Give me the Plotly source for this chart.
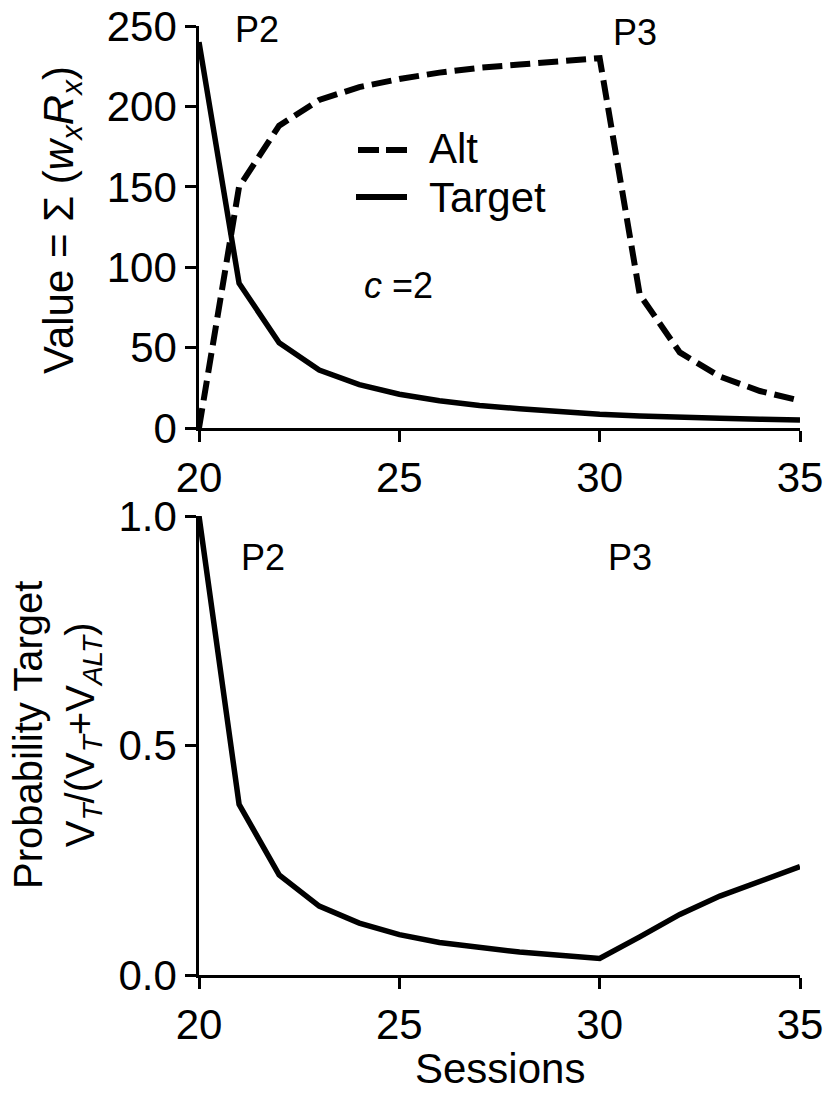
import plotly.graph_objects as go

# ---------------- data ----------------
sessions = [20, 21, 22, 23, 24, 25, 26, 27, 28, 29, 30, 31, 32, 33, 34, 35]
alt_value = [0, 150, 188, 204, 212, 217, 221, 224, 226, 228, 230, 83, 47, 32, 23, 17]
target_value = [240, 90, 53, 36, 27, 21, 17, 14, 12, 10, 8.5, 7.5, 6.5, 6, 5.5, 5]
prob_target = [1.0, 0.372, 0.218, 0.150, 0.113, 0.088, 0.071, 0.059, 0.050, 0.043, 0.036,
               0.083, 0.132, 0.172, 0.205, 0.236]

x_ticks = [20, 25, 30, 35]
top_y_ticks = [0, 50, 100, 150, 200, 250]
bottom_y_ticks = [0.0, 0.5, 1.0]

W, H = 830, 1094
FONT = "Liberation Sans, Arial, sans-serif"


def px(x):
    return x / W


def py(y):
    return 1 - y / H


fig = go.Figure()

fig.add_trace(go.Scatter(x=sessions, y=alt_value, mode="lines", name="Alt",
                         line=dict(color="black", width=6, dash="20px,8px"),
                         xaxis="x", yaxis="y", cliponaxis=False, showlegend=False))
fig.add_trace(go.Scatter(x=sessions, y=target_value, mode="lines", name="Target",
                         line=dict(color="black", width=5.5),
                         xaxis="x", yaxis="y", cliponaxis=False, showlegend=False))
fig.add_trace(go.Scatter(x=sessions, y=prob_target, mode="lines", name="Probability Target",
                         line=dict(color="black", width=5.5),
                         xaxis="x2", yaxis="y2", cliponaxis=False, showlegend=False))

axis_common = dict(showline=True, linecolor="black", linewidth=2.5, ticks="outside",
                   ticklen=11, tickwidth=2.5, tickcolor="black", showgrid=False,
                   zeroline=False, automargin=False,
                   tickfont=dict(family=FONT, size=42, color="black"))

xdom = [px(199), px(800)]
fig.update_layout(
    template="none",
    width=W, height=H,
    margin=dict(l=0, r=0, t=0, b=0, pad=0),
    paper_bgcolor="white", plot_bgcolor="white",
    font=dict(family=FONT, color="black", size=42),
    showlegend=False,
    xaxis=dict(domain=xdom, range=[20, 35], tickvals=x_ticks, anchor="y", **axis_common),
    yaxis=dict(domain=[py(428), py(26)], range=[0, 250], tickvals=top_y_ticks,
               anchor="x", **axis_common),
    xaxis2=dict(domain=xdom, range=[20, 35], tickvals=x_ticks, anchor="y2", **axis_common),
    yaxis2=dict(domain=[py(975), py(516)], range=[0, 1], tickvals=bottom_y_ticks,
                tickformat=".1f", anchor="x2", **axis_common),
)

annotations = [
    dict(x=px(257), y=py(30), text="P2", font=dict(size=36)),
    dict(x=px(635), y=py(33), text="P3", font=dict(size=36)),
    dict(x=px(263), y=py(557), text="P2", font=dict(size=36)),
    dict(x=px(630), y=py(557), text="P3", font=dict(size=36)),
    dict(x=px(398), y=py(285), text="<i>c</i> =2", font=dict(size=36)),
    dict(x=px(428), y=py(173), text="Alt", xanchor="left", yanchor="bottom",
         font=dict(size=42)),
    dict(x=px(428), y=py(173), text="Target", xanchor="left", yanchor="top",
         font=dict(size=42)),
    dict(x=px(61), y=py(220), textangle=-90,
         text="Value = \u03a3 (<i>w<sub>x</sub>R<sub>x</sub></i>)", font=dict(size=42)),
    dict(x=px(57), y=py(735), textangle=-90,
         text="Probability Target<br>V<sub><i>T</i></sub>/(V<sub><i>T</i></sub>+V<sub><i>ALT</i></sub>)",
         font=dict(size=40)),
    dict(x=px(500), y=py(1068), text="Sessions", font=dict(size=42)),
]
for a in annotations:
    a.setdefault("xanchor", "center")
    a.setdefault("yanchor", "middle")
    a["xref"] = "paper"
    a["yref"] = "paper"
    a["showarrow"] = False
    a["borderpad"] = 0
    a["font"] = dict(family=FONT, color="black", **a["font"])
fig.update_layout(annotations=annotations)

# manual legend samples
fig.add_shape(type="line", xref="paper", yref="paper", x0=px(358), x1=px(407),
              y0=py(150), y1=py(150), line=dict(color="black", width=6, dash="21px,7px"))
fig.add_shape(type="line", xref="paper", yref="paper", x0=px(356), x1=px(407),
              y0=py(197), y1=py(197), line=dict(color="black", width=6))

fig.write_html("out.html")
